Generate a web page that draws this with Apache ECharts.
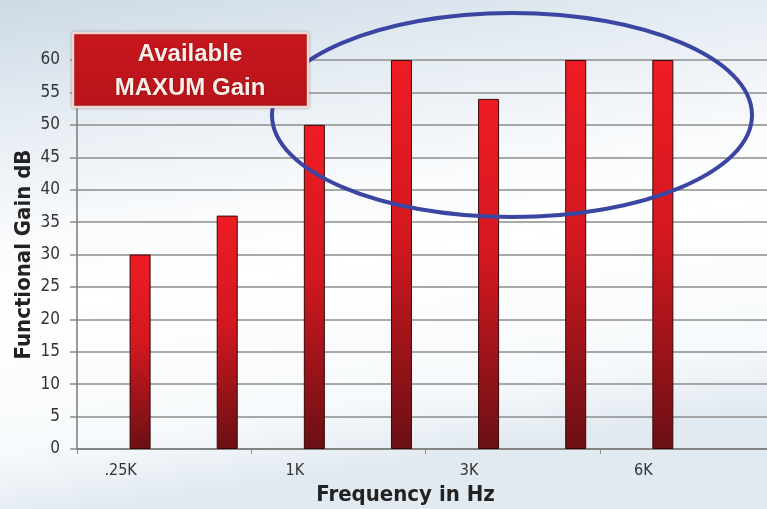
<!DOCTYPE html>
<html>
<head>
<meta charset="utf-8">
<script src="https://cdn.jsdelivr.net/npm/echarts@6/dist/echarts.min.js"></script>
<style>html,body{margin:0;padding:0;}#c{width:767px;height:509px;}</style>
</head>
<body>
<div id="c"></div>
<script>
var categories = ['.25K', '.5K', '1K', '2K', '3K', '4K', '6K', '8K'];
var gainValues = [30, 36, 50, 60, 54, 60, 60, null];
var spacerValues = [null, null, null, null, null, null, null, null];
var yTicks = { min: 0, max: 60, interval: 5 };
var boxLines = ['Available', 'MAXUM Gain'];

var chart = echarts.init(document.getElementById('c'));
var labelFont = "'DejaVu Sans Condensed', 'Liberation Sans Narrow', sans-serif";
chart.setOption({
  animation: false,
  backgroundColor: {
    type: 'linear', x: 0, y: 0, x2: 0.1, y2: 1,
    colorStops: [
      { offset: 0, color: '#cdd9e5' },
      { offset: 0.2, color: '#e2eaf1' },
      { offset: 0.45, color: '#f8fafc' },
      { offset: 0.6, color: '#ffffff' },
      { offset: 0.88, color: '#f6f9fb' },
      { offset: 1, color: '#e2eaf1' }
    ]
  },
  grid: { left: 77, top: 60, bottom: 60, width: 697, outerBoundsMode: 'none', containLabel: false },
  xAxis: {
    type: 'category',
    data: categories,
    name: 'Frequency in Hz',
    nameLocation: 'middle',
    nameGap: 33,
    nameTextStyle: { fontFamily: labelFont, fontWeight: 'bold', fontSize: 22, color: '#222', padding: [0, 40, 0, 0] },
    axisLine: { lineStyle: { color: '#7a7a7a', width: 1.5 } },
    axisTick: { show: true, length: 5, lineStyle: { color: '#8a8a8a' } },
    axisLabel: { interval: 1, margin: 14, fontFamily: labelFont, fontSize: 16, color: '#333' },
    splitLine: { show: false }
  },
  yAxis: {
    type: 'value',
    min: yTicks.min, max: yTicks.max, interval: yTicks.interval,
    name: 'Functional Gain dB',
    nameLocation: 'middle',
    nameGap: 42,
    nameMoveOverlap: false,
    nameTextStyle: { fontFamily: labelFont, fontWeight: 'bold', fontSize: 22, color: '#222' },
    axisLine: { show: true, lineStyle: { color: '#7a7a7a', width: 1.5 } },
    axisTick: { show: true, length: 7, lineStyle: { color: '#8a8a8a', width: 1.5 } },
    axisLabel: { margin: 17, fontFamily: labelFont, fontSize: 17, color: '#333' },
    splitLine: { lineStyle: { color: '#8c8c8c', width: 1.5 } }
  },
  series: [
    { type: 'bar', data: spacerValues, barWidth: 21, barGap: '86%', silent: true },
    {
      type: 'bar', data: gainValues, barWidth: 21, barGap: '86%',
      itemStyle: {
        borderColor: '#3a0707', borderWidth: 1,
        color: {
          type: 'linear', x: 0, y: 0, x2: 0, y2: 1,
          colorStops: [
            { offset: 0, color: '#ee1c24' },
            { offset: 0.45, color: '#d41820' },
            { offset: 1, color: '#6a1014' }
          ]
        }
      }
    }
  ],
  graphic: [
    {
      type: 'ellipse', z: 100,
      shape: { cx: 512, cy: 115, rx: 240, ry: 102 },
      style: { fill: 'none', stroke: '#3b45a2', lineWidth: 4 }
    },
    {
      type: 'rect', z: 110,
      shape: { x: 73, y: 33, width: 235, height: 74 },
      style: {
        fill: { type: 'linear', x: 0, y: 0, x2: 0, y2: 1,
          colorStops: [{ offset: 0, color: '#c8161e' }, { offset: 1, color: '#b8141b' }] },
        stroke: '#f3d6cf', lineWidth: 2.5,
        shadowBlur: 3, shadowColor: 'rgba(0,0,0,0.25)'
      }
    },
    {
      type: 'text', z: 120, x: 190, y: 54,
      style: { text: boxLines[0], fill: '#fbeee8', font: "bold 24px 'Liberation Sans', Arial, sans-serif",
        align: 'center', verticalAlign: 'middle', textShadowBlur: 2, textShadowColor: 'rgba(80,0,0,0.6)' }
    },
    {
      type: 'text', z: 120, x: 190, y: 88,
      style: { text: boxLines[1], fill: '#fbeee8', font: "bold 24px 'Liberation Sans', Arial, sans-serif",
        align: 'center', verticalAlign: 'middle', textShadowBlur: 2, textShadowColor: 'rgba(80,0,0,0.6)' }
    }
  ]
});
</script>
</body>
</html>
